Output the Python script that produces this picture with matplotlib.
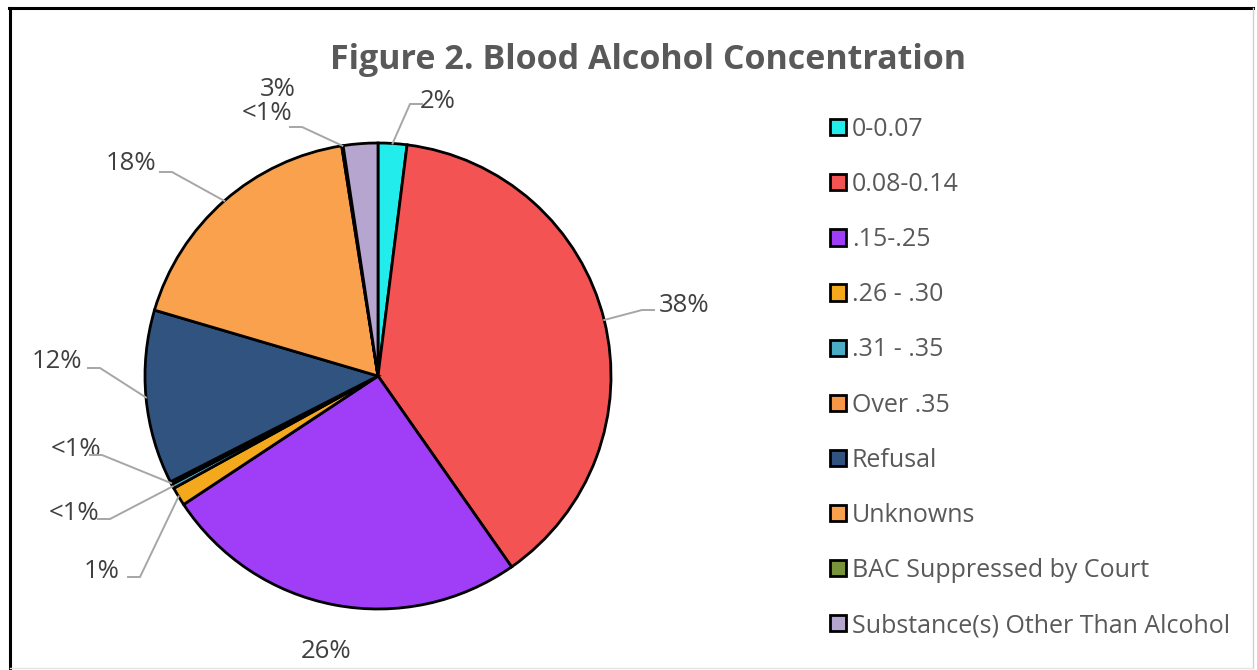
import numpy as np
import matplotlib
matplotlib.use("Agg")
import matplotlib.pyplot as plt
from matplotlib.lines import Line2D

# ---- data ----
categories = ["0-0.07", "0.08-0.14", ".15-.25", ".26 - .30", ".31 - .35",
              "Over .35", "Refusal", "Unknowns", "BAC Suppressed by Court",
              "Substance(s) Other Than Alcohol"]
shares = [2.0, 38.4, 25.5, 1.3, 0.3, 0.2, 12.1, 18.0, 0.1, 2.4]
share_labels = ["2%", "38%", "26%", "1%", "<1%", "<1%", "12%", "18%", "<1%", "3%"]
colors = ["#22ECEC", "#F45353", "#A03DF6", "#F4A81C", "#4BACC6",
          "#F79646", "#30547F", "#F9A14C", "#77933C", "#B6A6CF"]

# label text positions (pixels, top-left origin) and elbow of leader line (None = no leader)
label_pos = [(438, 102), (684, 305), (326, 651), (102, 572), (74, 513),
             (76, 450), (57, 361), (131, 164), (267, 113), (278, 90)]
label_elbow = [(410, 104), (642, 310), None, (140, 577), (110, 519),
               (102, 455), (100, 368), (172, 172), (302, 127), None]

W, H = 1257, 670
CX, CY, R = 378, 376, 233

plt.rcParams["font.family"] = ["Open Sans", "DejaVu Sans"]
fig = plt.figure(figsize=(W / 100, H / 100), dpi=100)
ax = fig.add_axes([0, 0, 1, 1])

wedges, _ = ax.pie(shares, colors=colors, startangle=90, counterclock=False,
                   center=(CX, H - CY), radius=R, frame=True,
                   wedgeprops=dict(edgecolor="black", linewidth=2))
ax.set_xlim(0, W)
ax.set_ylim(0, H)
ax.set_aspect("equal")
ax.axis("off")

lead_col = "#A6A6A6"
for w, txt, (tx, ty), elbow in zip(wedges, share_labels, label_pos, label_elbow):
    ax.text(tx, H - ty, txt, ha="center", va="center", fontsize=18.5, color="#404040")
    if elbow is None:
        continue
    mid = np.deg2rad((w.theta1 + w.theta2) / 2)
    px, py = CX + R * np.cos(mid), (H - CY) + R * np.sin(mid)
    ex, ey = elbow[0], H - elbow[1]
    # short horizontal bit toward the text
    hx = ex + (12 if tx > ex else -12)
    ax.plot([px, ex, hx], [py, ey, ey], color=lead_col, lw=1.4,
            solid_joinstyle="miter", zorder=3)

ax.legend(wedges, categories, loc="upper left",
          bbox_to_anchor=(830 / W, 1 - 117 / H), bbox_transform=fig.transFigure,
          frameon=False, fontsize=18, labelcolor="#595959",
          handlelength=0.62, handleheight=0.62, handletextpad=0.25,
          labelspacing=1.205, borderpad=0, borderaxespad=0)

fig.text(648 / W, 1 - 60 / H, "Figure 2. Blood Alcohol Concentration",
         ha="center", va="center", fontsize=24.5, fontweight="bold", color="#595959")

# outer chart border
fig.add_artist(Line2D([10 / W, 10 / W], [0, 1 - 8 / H], color="black", lw=2.2,
                      transform=fig.transFigure))
fig.add_artist(Line2D([9 / W, 1253 / W], [1 - 8 / H, 1 - 8 / H], color="black", lw=2.2,
                      transform=fig.transFigure))
fig.add_artist(Line2D([1253 / W, 1253 / W], [2 / H, 1 - 8 / H], color="#D0D0D0", lw=1,
                      transform=fig.transFigure))
fig.add_artist(Line2D([10 / W, 1253 / W], [2 / H, 2 / H], color="#E4E4E4", lw=1,
                      transform=fig.transFigure))

fig.savefig("out.png", dpi=100)
